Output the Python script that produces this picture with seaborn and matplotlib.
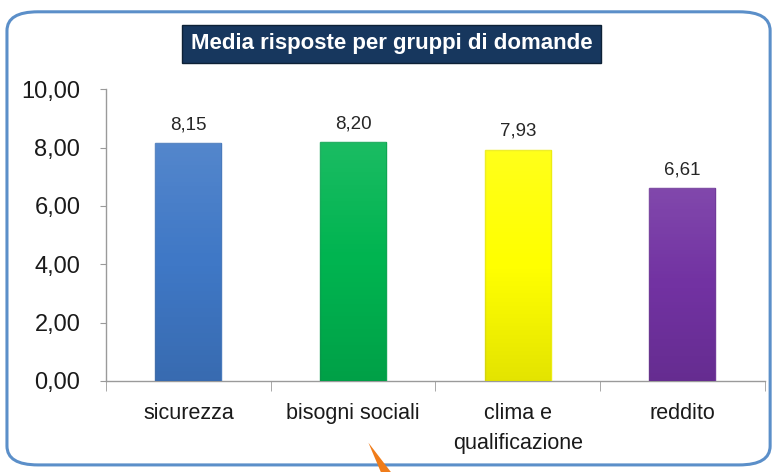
import matplotlib
matplotlib.use("Agg")
import matplotlib.pyplot as plt
from matplotlib.patches import FancyBboxPatch, Polygon
import seaborn as sns
import numpy as np
import pandas as pd

categorie = ["sicurezza", "bisogni sociali", "clima e\nqualificazione", "reddito"]
medie = [8.15, 8.20, 7.93, 6.61]
colori = ["#3f78c6", "#00b450", "#ffff00", "#7232a2"]
yticks = [0, 2, 4, 6, 8, 10]

df = pd.DataFrame({"gruppo": categorie, "media": medie})

sns.set_style("white")
plt.rcParams["font.family"] = ["Liberation Sans", "DejaVu Sans"]

fig = plt.figure(figsize=(7.74, 4.72), dpi=100)

# rounded frame behind everything
frame = FancyBboxPatch((0.009, 0.015), 0.986, 0.96, boxstyle="round,pad=0,rounding_size=0.04",
                       transform=fig.transFigure, facecolor="white", edgecolor="#5b8fc9",
                       linewidth=2.2, zorder=-10)
fig.patches.append(frame)

ax = fig.add_axes([0.137, 0.193, 0.851, 0.618])
ax.set_facecolor("none")
sns.barplot(data=df, x="gruppo", y="media", hue="gruppo", palette=colori, saturation=1,
            width=0.4, legend=False, ax=ax, zorder=3)

for bar, c in zip(ax.patches, colori):
    bar.set_edgecolor(sns.desaturate(c, 0.85))
    bar.set_linewidth(1.0)
    # shading: lighter at top, darker at bottom
    x0, y0 = bar.get_x(), bar.get_y()
    w, h = bar.get_width(), bar.get_height()
    t = np.linspace(0, 1, 100).reshape(-1, 1)
    shade = np.where(t < 0.5, 1.0, 0.0)
    alpha = np.abs(0.5 - t) * 0.22
    rgba = np.dstack([shade, shade, shade, alpha])
    im = ax.imshow(rgba, aspect="auto", extent=[x0, x0 + w, y0, y0 + h],
                   origin="upper", zorder=4)
    im.set_clip_path(bar)

for i, v in enumerate(medie):
    ax.text(i, v + 0.33, f"{v:.2f}".replace(".", ","), ha="center", va="bottom",
            fontsize=13.5, color="#262626")

ax.set_xlim(-0.5, 3.5)
ax.set_ylim(0, 10)
ax.set_yticks(yticks)
ax.set_yticklabels([f"{t:.2f}".replace(".", ",") for t in yticks], fontsize=17, color="#1a1a1a")
ax.set_xticks([0, 1, 2, 3])
ax.set_xticklabels(categorie, fontsize=15.5, color="#1a1a1a", linespacing=1.55)
ax.set_xlabel("")
ax.set_ylabel("")

for s in ["top", "right"]:
    ax.spines[s].set_visible(False)
for s in ["left", "bottom"]:
    ax.spines[s].set_color("#9a9a9a")
    ax.spines[s].set_linewidth(1)

ax.tick_params(axis="y", length=4.5, color="#9a9a9a", pad=14, left=True)
ax.tick_params(axis="x", length=0, pad=16)
# minor ticks between categories on x axis
ax.set_xticks([-0.5, 0.5, 1.5, 2.5, 3.5], minor=True)
ax.tick_params(axis="x", which="minor", length=7, color="#9a9a9a", bottom=True)

fig.text(0.506, 0.907, "Media risposte per gruppi di domande", ha="center", va="center",
         fontsize=16, fontweight="bold", color="white",
         bbox=dict(boxstyle="square,pad=0.4", facecolor="#17375e", edgecolor="#0d2136"))

# orange callout tip at the bottom
fig.patches.append(Polygon([(0.476, 0.062), (0.492, 0.0), (0.505, 0.0)], closed=True,
                           transform=fig.transFigure, facecolor="#f07c1a", edgecolor="none",
                           zorder=5))

fig.savefig("out.png", dpi=100)
